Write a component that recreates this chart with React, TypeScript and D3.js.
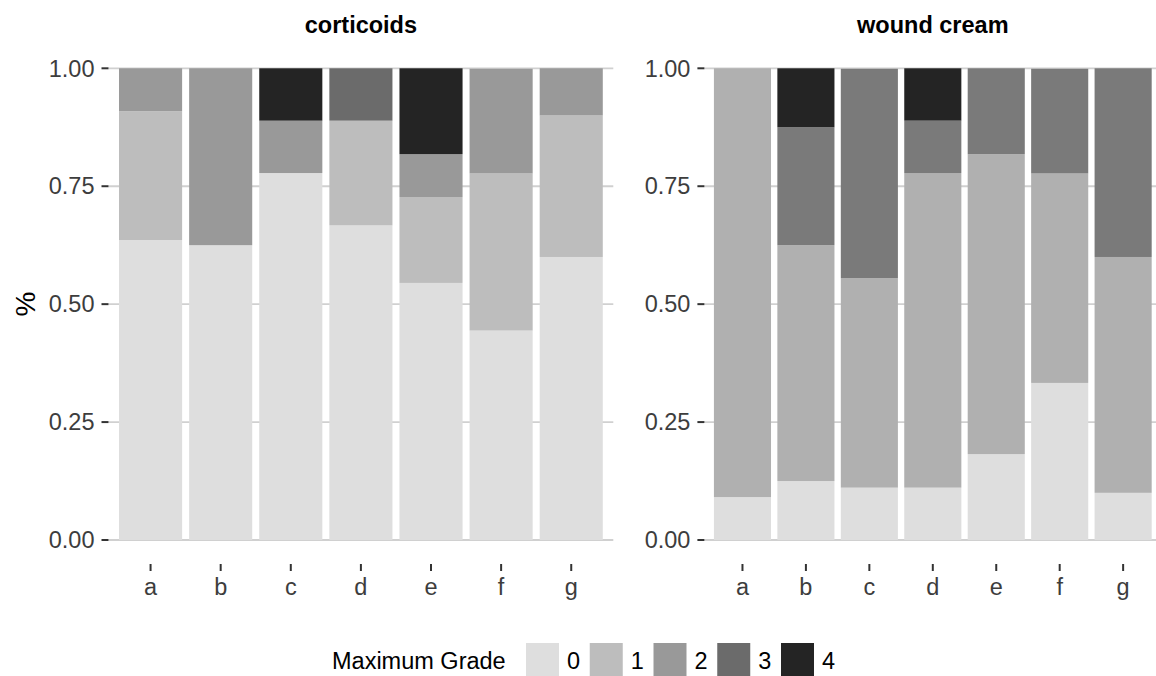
import React from 'react';
import * as d3 from 'd3';

const categories = ['a', 'b', 'c', 'd', 'e', 'f', 'g'];
const grades = ['0', '1', '2', '3', '4'];
const yTicks = [0, 0.25, 0.5, 0.75, 1];

// share of each grade per category, grade 0..4
const corticoids = [
  [0.636, 0.273, 0.091, 0, 0],
  [0.625, 0, 0.375, 0, 0],
  [0.778, 0, 0.111, 0, 0.111],
  [0.667, 0.222, 0, 0.111, 0],
  [0.545, 0.182, 0.091, 0, 0.182],
  [0.444, 0.333, 0.222, 0, 0],
  [0.6, 0.3, 0.1, 0, 0],
];
const woundCream = [
  [0.091, 0.909, 0, 0, 0],
  [0.125, 0.5, 0, 0.25, 0.125],
  [0.111, 0.444, 0, 0.444, 0],
  [0.111, 0.667, 0, 0.111, 0.111],
  [0.182, 0.636, 0, 0.182, 0],
  [0.333, 0.444, 0, 0.222, 0],
  [0.1, 0.5, 0, 0.4, 0],
];

// the two panels were drawn as separate plots, so greys differ a little
const greysLeft = ['#dedede', '#bdbdbd', '#999999', '#6b6b6b', '#242424'];
const greysRight = ['#dedede', '#b0b0b0', '#999999', '#7a7a7a', '#242424'];

const font = '"Liberation Sans", Arial, Helvetica, sans-serif';
const y = d3.scaleLinear().domain([0, 1]).range([540, 68.3]);

function Panel({ title, data, colors, x0, x1 }) {
  const x = d3.scaleBand().domain(categories).range([x0, x1]).paddingInner(0.1).paddingOuter(0.15);
  const rows = data.map((v, i) => {
    const r = { cat: categories[i] };
    grades.forEach((g, j) => (r[g] = v[j]));
    return r;
  });
  const series = d3.stack().keys(grades)(rows);
  return (
    <g>
      <text x={(x0 + x1) / 2} y={33} textAnchor="middle" fontWeight="bold" fontSize={23.5} fill="#000">
        {title}
      </text>
      {yTicks.map((t) => (
        <line key={t} x1={x0} x2={x1} y1={y(t)} y2={y(t)} stroke="#d0d0d0" strokeWidth={1.8} />
      ))}
      {series.map((s, gi) =>
        s.map((d, i) =>
          d[1] - d[0] > 0 ? (
            <rect
              key={gi + '-' + i}
              x={x(categories[i])}
              width={x.bandwidth()}
              y={y(d[1])}
              height={y(d[0]) - y(d[1])}
              fill={colors[gi]}
            />
          ) : null
        )
      )}
      {yTicks.map((t) => (
        <g key={'y' + t}>
          <line x1={x0 - 7} x2={x0} y1={y(t)} y2={y(t)} stroke="#333" strokeWidth={2} />
          <text x={x0 - 14} y={y(t)} dy="0.35em" textAnchor="end" fontSize={23.5} fill="#3d3d3d">
            {d3.format('.2f')(t)}
          </text>
        </g>
      ))}
      {categories.map((c) => {
        const cx = x(c) + x.bandwidth() / 2;
        return (
          <g key={'x' + c}>
            <line x1={cx} x2={cx} y1={564} y2={571} stroke="#333" strokeWidth={2} />
            <text x={cx} y={595} textAnchor="middle" fontSize={23.5} fill="#3d3d3d">
              {c}
            </text>
          </g>
        );
      })}
    </g>
  );
}

export default function App() {
  const keyX = 526;
  const keyStep = 63.75;
  return (
    <svg
      width={1156}
      height={676}
      style={{ position: 'absolute', left: 0, top: 0, background: '#fff' }}
      fontFamily={font}
    >
      <rect width={1156} height={676} fill="#fff" />
      <Panel title="corticoids" data={corticoids} colors={greysLeft} x0={108.5} x1={613.3} />
      <Panel title="wound cream" data={woundCream} colors={greysRight} x0={704.4} x1={1161.2} />
      <text transform="translate(25,304) rotate(-90)" textAnchor="middle" dy="0.35em" fontSize={28} fill="#000">
        %
      </text>
      <text x={332} y={669} fontSize={23.5} fill="#000">
        Maximum Grade
      </text>
      {grades.map((g, i) => (
        <g key={'k' + g}>
          <rect x={keyX + i * keyStep} y={643} width={33} height={33} fill={greysLeft[i]} />
          <text x={keyX + i * keyStep + 41} y={669} fontSize={23.5} fill="#000">
            {g}
          </text>
        </g>
      ))}
    </svg>
  );
}
